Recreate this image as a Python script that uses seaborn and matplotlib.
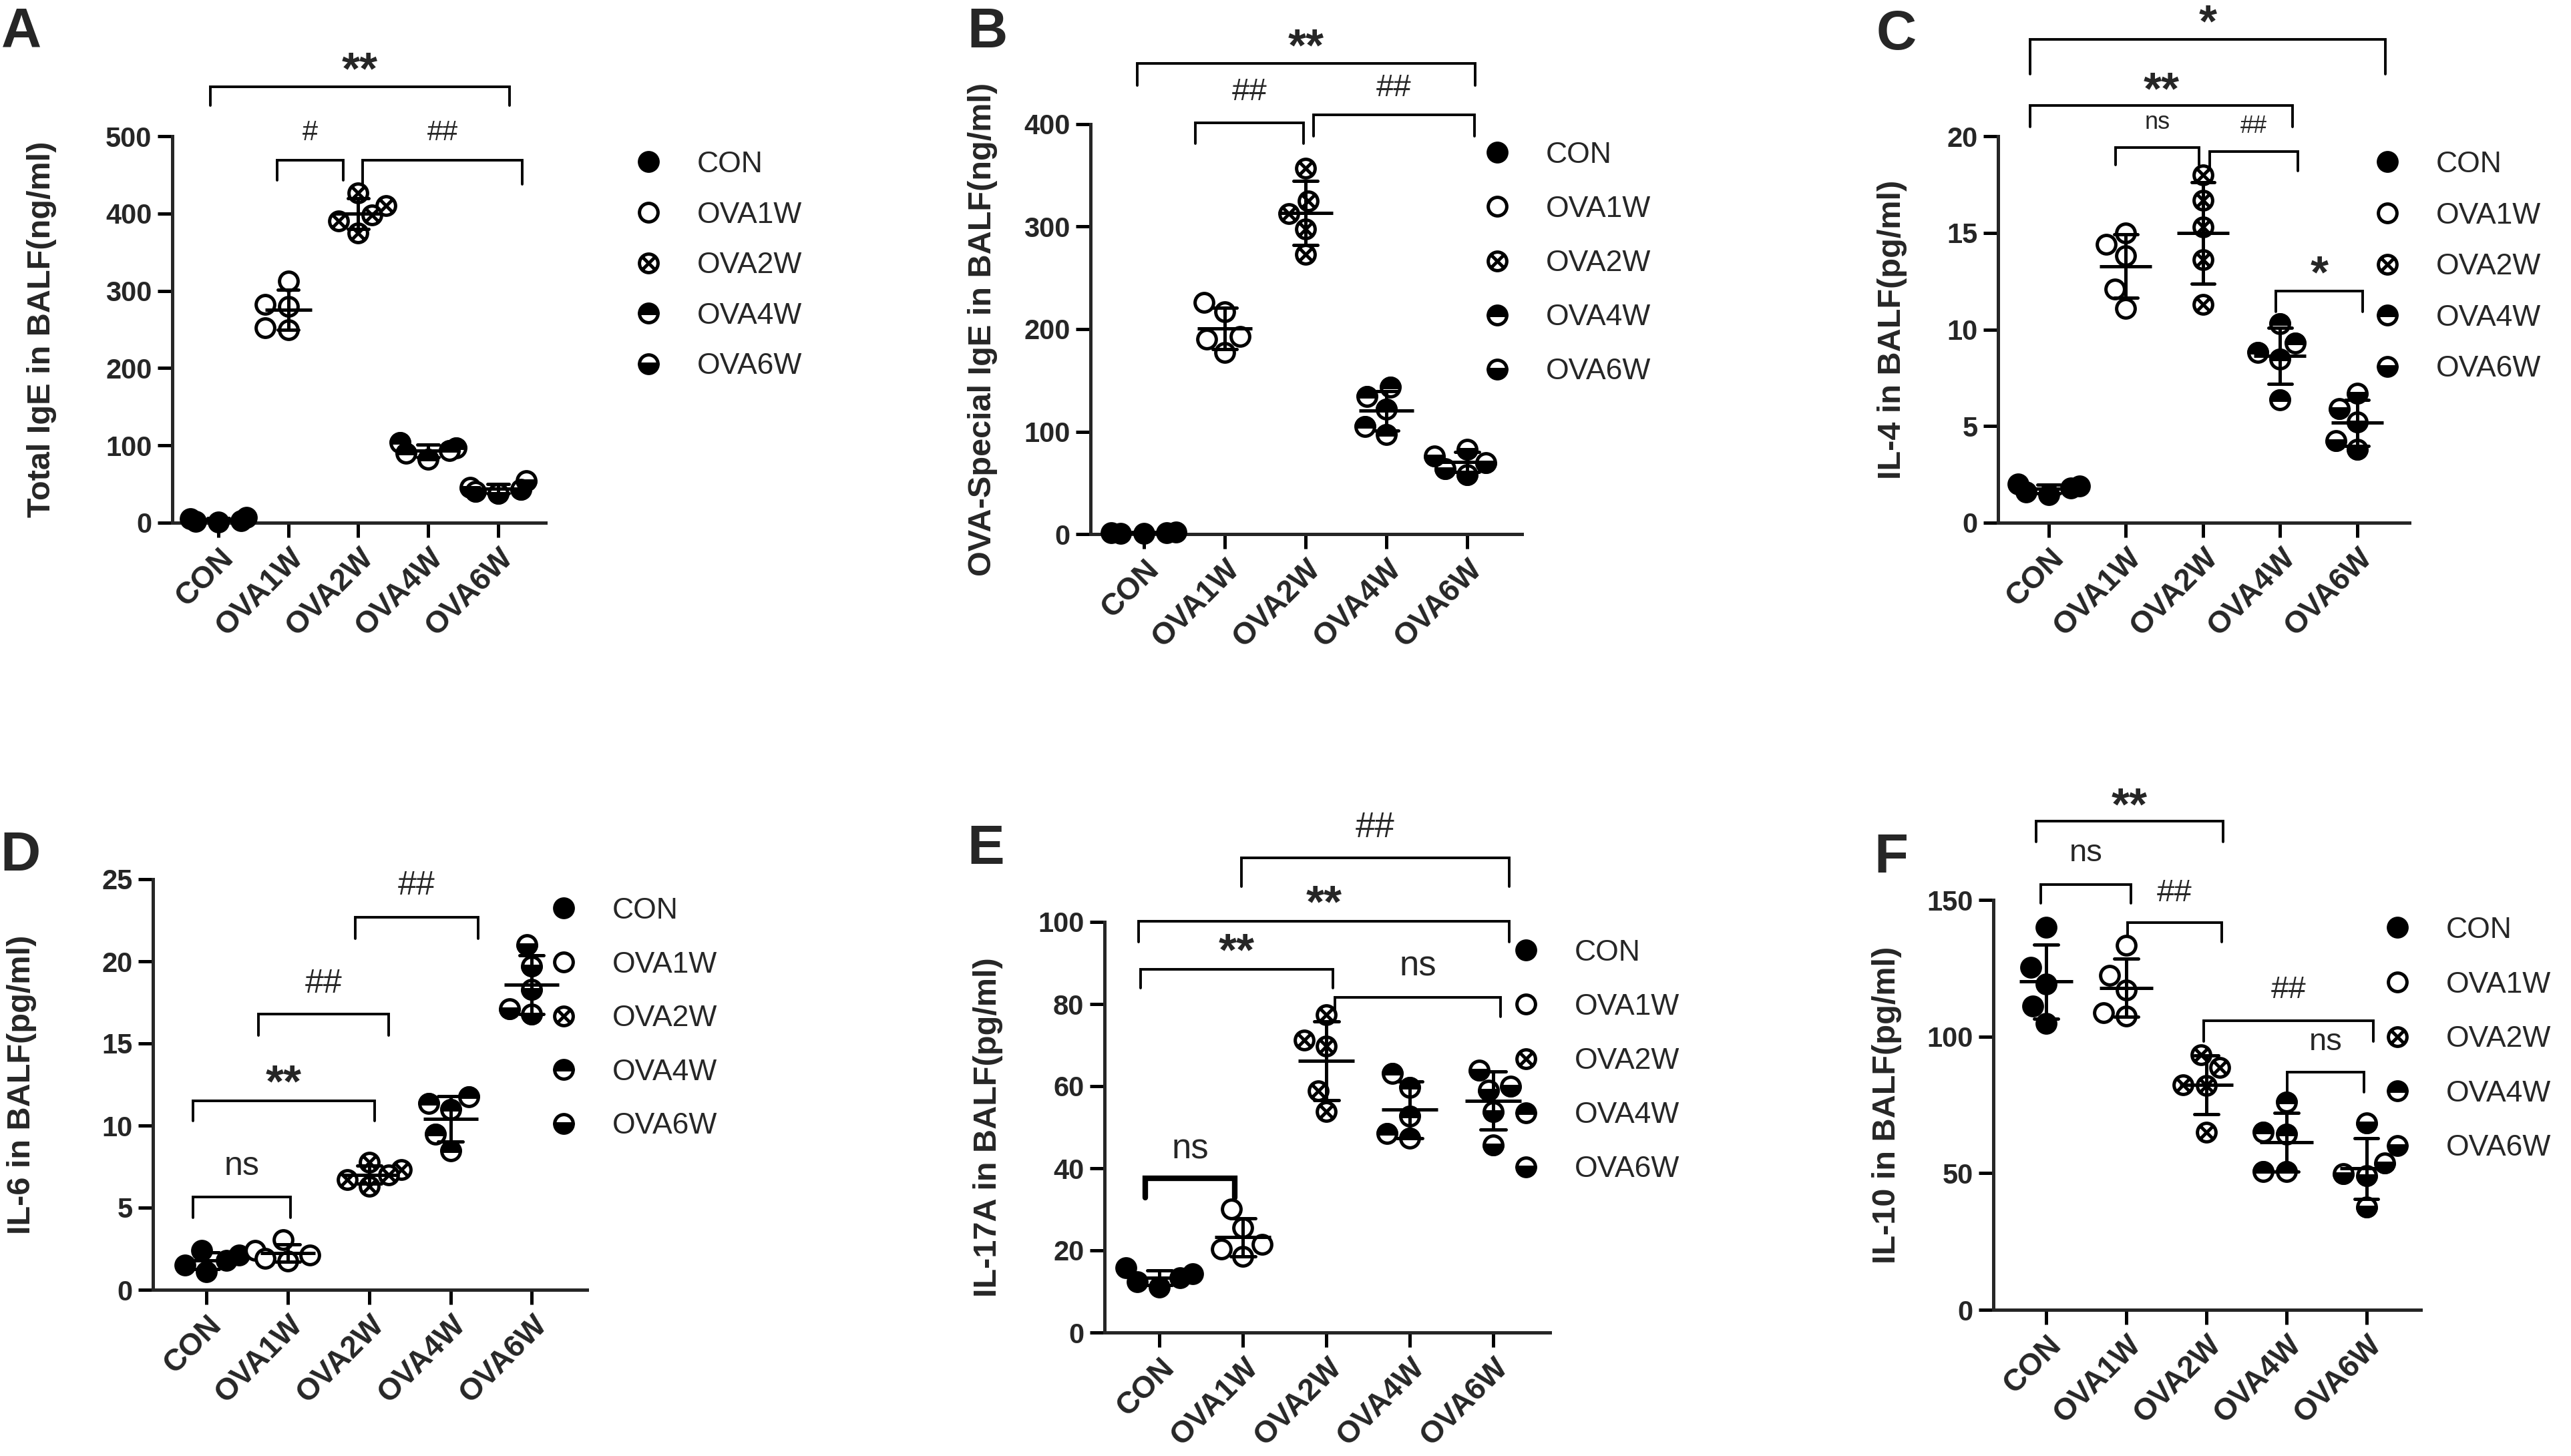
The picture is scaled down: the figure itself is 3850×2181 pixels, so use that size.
import numpy as np
import pandas as pd
import matplotlib
matplotlib.use("Agg")
import matplotlib.pyplot as plt
import seaborn as sns
from matplotlib.lines import Line2D
from matplotlib.markers import MarkerStyle
from matplotlib.path import Path

# groups
groups = ["CON", "OVA1W", "OVA2W", "OVA4W", "OVA6W"]

# values, one list per group
total_ige = [[7, 5, 3, 2, 1], [313, 282, 280, 252, 250], [427, 410, 398, 390, 375],
             [104, 97, 93, 90, 82], [54, 46, 43, 41, 38]]
ova_ige = [[2, 1.5, 1, 0.8, 0.5], [226, 217, 193, 190, 177], [357, 325, 313, 298, 273],
           [143, 134, 122, 105, 97], [83, 76, 70, 64, 58]]
il4 = [[2.0, 1.9, 1.8, 1.6, 1.45], [15.0, 14.4, 13.8, 12.1, 11.1], [18.0, 16.7, 15.3, 13.6, 11.3],
       [10.3, 9.3, 8.8, 8.45, 6.35], [6.7, 5.9, 5.2, 4.25, 3.8]]
il6 = [[2.4, 2.1, 1.8, 1.5, 1.1], [3.05, 2.4, 2.1, 1.9, 1.75], [7.75, 7.3, 7.0, 6.7, 6.3],
       [11.76, 11.36, 10.96, 9.48, 8.46], [21.0, 19.7, 18.3, 17.1, 16.8]]
il17a = [[15.8, 14.3, 13.4, 12.3, 11.0], [30.1, 25.5, 21.5, 20.4, 18.5], [77.4, 71.2, 69.7, 58.8, 53.8],
         [63.1, 59.7, 52.7, 48.4, 47.3], [63.9, 60.0, 59.0, 53.8, 45.7]]
il10 = [[140, 125.3, 119.3, 111.2, 104.7], [133.5, 122.5, 116.9, 108.8, 107.6], [93.4, 88.6, 82.4, 82.1, 65.1],
        [76, 65.1, 64.3, 50.6, 50.6], [68.4, 53.8, 49.8, 49, 37.7]]

# significance brackets: x1, x2, top, leg end, label, label y
sig_a = [(-0.12, 4.16, 564, 540, "**", 598), (0.84, 1.79, 469, 443, "#", 504),
         (2.06, 4.35, 469, 438, "##", 504)]
sig_b = [(-0.08, 4.10, 459, 438, "**", 485), (0.64, 1.98, 401, 381, "##", 431),
         (2.10, 4.09, 409, 388, "##", 435)]
sig_c = [(-0.245, 4.37, 25.0, 23.2, "*", 26.4), (-0.245, 3.16, 21.6, 20.5, "**", 22.9),
         (0.865, 1.95, 19.4, 18.5, "ns", 20.7), (2.09, 3.23, 19.2, 18.2, "##", 20.5),
         (2.95, 4.07, 12.0, 10.9, "*", 13.4)]
sig_d = [(-0.17, 1.03, 5.67, 4.4, "ns", 7.5), (-0.17, 2.07, 11.5, 10.3, "**", 13.2),
         (0.64, 2.24, 16.8, 15.5, "##", 18.6), (1.83, 3.34, 22.7, 21.4, "##", 24.6)]
sig_e = [(0.98, 4.19, 115.6, 108.6, "##", 123), (-0.25, 4.19, 100.2, 95.2, "**", 107),
         (-0.23, 2.08, 88.4, 83.9, "**", 95.2), (2.10, 4.09, 81.7, 76.9, "ns", 89.2),
         (-0.17, 0.90, 37.6, 32.8, "ns", 44.6, 3.0)]
sig_f = [(-0.13, 2.21, 178.8, 171.3, "**", 188), (-0.07, 1.06, 155.6, 148.7, "ns", 167),
         (1.02, 2.19, 141.6, 134.6, "##", 152.5), (1.97, 4.09, 105.9, 98.3, "##", 116.9),
         (3.01, 3.97, 87, 79.7, "ns", 98)]

W, H, DPI = 3850, 2181, 200

def fx(px):
    return px / W

def fy(py):
    return 1 - py / H

sns.set_theme(style="ticks")
plt.rcParams["font.family"] = ["Liberation Sans", "DejaVu Sans"]

# marker for OVA2W: circle with a cross inside
d = 0.72
otimes = MarkerStyle(Path.make_compound_path(
    Path.unit_circle(),
    Path([[-d, -d], [d, d], [-d, d], [d, -d]], [Path.MOVETO, Path.LINETO, Path.MOVETO, Path.LINETO])))

PT = 10     # point diameter
EW = 1.8    # edge width
LW = 1.8    # axis width
STAR = 25   # size of the * labels

layers = {
    "CON": [dict(marker="o", color="black")],
    "OVA1W": [dict(marker="o", color="white")],
    "OVA2W": [dict(marker=otimes, color="white")],
    "OVA4W": [dict(marker="o", color="white"), dict(marker=MarkerStyle("o", fillstyle="top"), color="black")],
    "OVA6W": [dict(marker="o", color="white"), dict(marker=MarkerStyle("o", fillstyle="bottom"), color="black")],
}

common = dict(linestyle="none", markersize=PT, markeredgecolor="black", markeredgewidth=EW)
handles = [
    Line2D([], [], marker="o", markerfacecolor="black", **common),
    Line2D([], [], marker="o", markerfacecolor="white", **common),
    Line2D([], [], marker=otimes, markerfacecolor="white", **common),
    Line2D([], [], marker="o", fillstyle="top", markerfacecolor="black", markerfacecoloralt="white", **common),
    Line2D([], [], marker="o", fillstyle="bottom", markerfacecolor="black", markerfacecoloralt="white", **common),
]

panels = [
    dict(tag="A", data=total_ige, ylabel="Total IgE in BALF(ng/ml)", yticks=[0, 100, 200, 300, 400, 500],
         box=(258, 204, 817, 783), leg=(971, 242, 77), ylab_x=62, tag_xy=(2, 10), size=15, sig=sig_a),
    dict(tag="B", data=ova_ige, ylabel="OVA-Special IgE in BALF(ng/ml)", yticks=[0, 100, 200, 300, 400],
         box=(1633, 186, 2279, 800), leg=(2242, 228, 82.5), ylab_x=1471, tag_xy=(1448, 10), size=17, sig=sig_b),
    dict(tag="C", data=il4, ylabel="IL-4 in BALF(pg/ml)", yticks=[0, 5, 10, 15, 20],
         box=(2992, 204, 3608, 783), leg=(3575, 242, 78), ylab_x=2833, tag_xy=(2810, 13), size=13, sig=sig_c),
    dict(tag="D", data=il6, ylabel="IL-6 in BALF(pg/ml)", yticks=[0, 5, 10, 15, 20, 25],
         box=(229, 1317, 879, 1932), leg=(844, 1360, 82), ylab_x=33, tag_xy=(0, 1243), size=18, sig=sig_d),
    dict(tag="E", data=il17a, ylabel="IL-17A in BALF(pg/ml)", yticks=[0, 20, 40, 60, 80, 100],
         box=(1654, 1381, 2321, 1996), leg=(2285, 1423, 82.5), ylab_x=1479, tag_xy=(1448, 1233), size=19, sig=sig_e),
    dict(tag="F", data=il10, ylabel="IL-10 in BALF(pg/ml)", yticks=[0, 50, 100, 150],
         box=(2985, 1348, 3625, 1962), leg=(3590, 1389, 83), ylab_x=2825, tag_xy=(2806, 1246), size=17, sig=sig_f),
]

XLIM = (-0.66, 4.68)

fig = plt.figure(figsize=(W / DPI, H / DPI), dpi=DPI)

for p in panels:
    l, t, r, b = p["box"]
    ax = fig.add_axes([fx(l), fy(b), (r - l) / W, (b - t) / H])
    df = pd.DataFrame({
        "group": np.repeat(groups, [len(v) for v in p["data"]]),
        "value": np.concatenate(p["data"]),
    })

    # points, one group at a time so each gets its own marker
    for g in groups:
        sub = df[df["group"] == g]
        for lay in layers[g]:
            sns.swarmplot(data=sub, x="group", y="value", order=groups, size=PT, linewidth=EW,
                          edgecolor="black", warn_thresh=1, clip_on=False,
                          legend=False, ax=ax, **lay)

    # mean +/- SD
    cat_px = (r - l) / (XLIM[1] - XLIM[0])
    sns.pointplot(data=df, x="group", y="value", order=groups, errorbar="sd", capsize=0.3,
                  color="black", marker="_", markersize=0.67 * cat_px * 72 / DPI,
                  markeredgewidth=EW, linestyle="none", zorder=4,
                  err_kws={"linewidth": EW, "zorder": 4}, ax=ax)

    ax.set_xlim(*XLIM)
    ax.set_ylim(0, p["yticks"][-1])
    ax.set_yticks(p["yticks"])
    ax.set_yticklabels([str(v) for v in p["yticks"]], fontsize=15, fontweight="bold")
    ax.set_xticks(range(len(groups)))
    ax.set_xticklabels(groups, rotation=45, ha="right", rotation_mode="anchor",
                       fontsize=16.5, fontweight="bold")
    ax.set_xlabel("")
    ax.set_ylabel(p["ylabel"], fontsize=17.5, fontweight="bold", va="center")
    ax.yaxis.set_label_coords((p["ylab_x"] - l) / (r - l), 0.5)
    sns.despine(ax=ax)
    for s in ["left", "bottom"]:
        ax.spines[s].set_linewidth(LW)
    ax.tick_params(axis="both", direction="out", length=8, width=LW, pad=3, color="black")

    # significance brackets
    for m in p["sig"]:
        x1, x2, top, leg, label, ty = m[:6]
        lw = m[6] if len(m) > 6 else 1.4
        ax.plot([x1, x1, x2, x2], [leg, top, top, leg], color="black", lw=lw,
                clip_on=False, solid_joinstyle="miter")
        star = "*" in label
        fs = STAR if star else p["size"]
        # asterisks sit high in their line box, so pull them down a little
        ax.annotate(label, ((x1 + x2) / 2, ty), xytext=(0, -0.25 * fs if star else 0),
                    textcoords="offset points", ha="center", va="center", annotation_clip=False,
                    fontsize=fs, fontweight="bold" if star else "normal")

    # legend
    mx, my, step = p["leg"]
    ax.legend(handles=handles, labels=groups, loc="upper left",
              bbox_to_anchor=(fx(mx - 22), fy(my - 16)), bbox_transform=fig.transFigure,
              frameon=False, fontsize=16, handlelength=1.0, handleheight=0.7,
              handletextpad=1.13, labelspacing=(step - 42.5) / 44.4,
              borderpad=0, borderaxespad=0)

    tx, ty = p["tag_xy"]
    fig.text(fx(tx), fy(ty), p["tag"], fontsize=30, fontweight="bold", ha="left", va="top")

fig.savefig("out.png", dpi=DPI)
